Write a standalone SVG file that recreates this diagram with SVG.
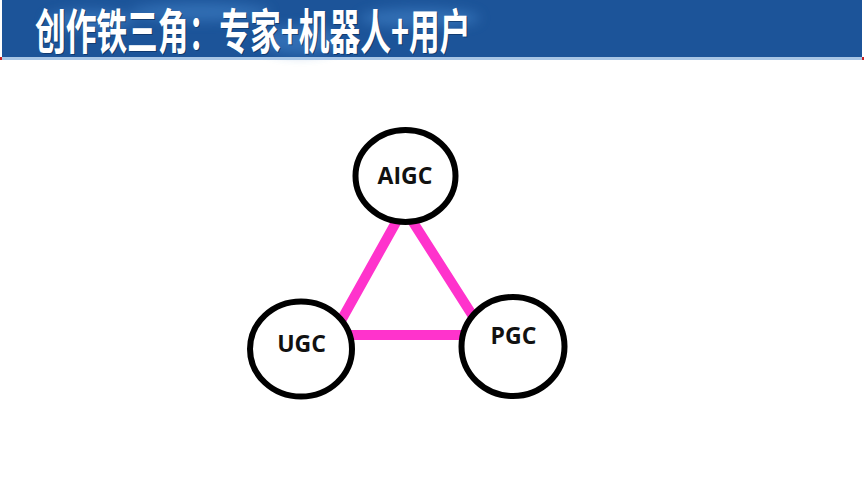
<svg xmlns="http://www.w3.org/2000/svg" width="865" height="487" viewBox="0 0 865 487">
  <defs>
    <filter id="blur" x="-20%" y="-50%" width="140%" height="200%">
      <feGaussianBlur stdDeviation="6"/>
    </filter>
  </defs>
  <style>
    .title { font-family: "Noto Sans CJK SC", "Noto Sans", sans-serif; font-weight: 700; font-size: 40px; }
    .node ellipse { fill: #ffffff; stroke: #000000; stroke-width: 6; }
    .node text { font-family: "Open Sans", "Liberation Sans", sans-serif; font-weight: 700; font-size: 23px; fill: #111111; text-anchor: middle; }
    .edge { fill: none; stroke: #ff33cc; stroke-width: 10; stroke-linejoin: miter; }
  </style>
  <rect x="0" y="0" width="865" height="487" fill="#ffffff"/>
  <g id="header">
    <rect x="2" y="0" width="860" height="58" fill="#1c5499"/>
    <g filter="url(#blur)" fill="#3f80c6" opacity="0.6">
      <ellipse cx="90" cy="20" rx="45" ry="10"/>
      <ellipse cx="200" cy="12" rx="70" ry="9"/>
      <ellipse cx="300" cy="40" rx="40" ry="14"/>
      <ellipse cx="420" cy="18" rx="60" ry="10"/>
    </g>
    <rect x="2" y="57" width="860" height="3" fill="#a8c6e6"/>
    <rect x="0" y="57" width="2" height="3" fill="#cc2222"/>
    <rect x="862" y="57" width="2" height="3" fill="#cc2222"/>
    <g transform="translate(35,49) scale(0.768,1.2)">
      <text class="title" x="1.3" y="0.8" fill="#0a2a55" opacity="0.6">创作铁三角：专家+机器人+用户</text>
      <text class="title" x="0" y="0" fill="#ffffff">创作铁三角：专家+机器人+用户</text>
    </g>
  </g>
  <g id="connectors">
    <polygon class="edge" points="404,208 333,335 485,335"/>
  </g>
  <g id="node-aigc" class="node">
    <ellipse cx="405.5" cy="176" rx="50" ry="46"/>
    <text x="405" y="184">AIGC</text>
  </g>
  <g id="node-ugc" class="node">
    <ellipse cx="301" cy="349" rx="51" ry="47.5"/>
    <text x="301.5" y="352">UGC</text>
  </g>
  <g id="node-pgc" class="node">
    <ellipse cx="513" cy="346.5" rx="51.5" ry="49.5"/>
    <text x="513.5" y="344">PGC</text>
  </g>
</svg>
